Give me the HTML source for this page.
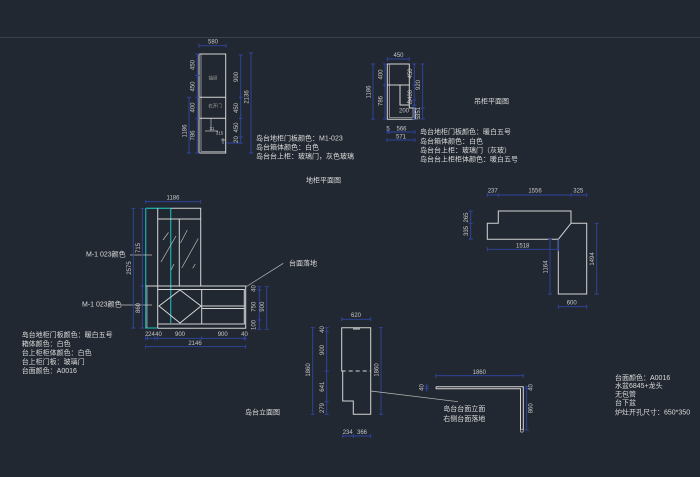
<!DOCTYPE html>
<html><head><meta charset="utf-8"><style>
html,body{margin:0;padding:0;background:#222831;}
svg{display:block}
.w{stroke:#d4d4d4;stroke-width:1;fill:none}
.w2{stroke:#bdbdbd;stroke-width:0.7;fill:none}
.b{stroke:#2e45a3;stroke-width:0.9;fill:none}
.c{stroke:#1fa3a3;stroke-width:1.3;fill:none}
.t{font-family:"Liberation Sans","Noto Sans CJK SC",sans-serif;font-size:7px;fill:#dadada;dominant-baseline:central}
.d{font-family:"Liberation Sans",sans-serif;font-size:6px;fill:#c6c6c6;text-anchor:middle;dominant-baseline:central}
.s{font-family:"Liberation Sans","Noto Sans CJK SC",sans-serif;font-size:4.5px;fill:#9a9a9a;text-anchor:middle;dominant-baseline:central}
</style></head><body>
<svg width="700" height="477" viewBox="0 0 700 477" xmlns="http://www.w3.org/2000/svg">
<rect width="700" height="477" fill="#222831"/>
<line x1="0" y1="37.5" x2="700" y2="37.5" stroke="#3a404d" stroke-width="1"/>

<!-- ========== Top-left elevation ========== -->
<path class="w" d="M199,54H225.7V153H199Z"/>
<path class="w2" d="M201,54V151.3H225.7"/>
<path class="w" d="M199,97.3H225.7M199,118.3H225.7"/>
<path class="w2" d="M211,118.3V131M205,131H218M221,140H225M223,138V144"/>
<text class="s" x="213" y="78">抽屉</text>
<text class="s" x="215" y="106">右开门</text>
<text class="d" x="212" y="128.5" style="font-size:4.5px">31</text>
<text class="d" x="219.5" y="133" style="font-size:4.5px">315</text>

<path class="b" d="M199,45.7H226M199,43.7V47.7M226,43.7V47.7"/>
<text class="d" x="213" y="42.5">580</text>
<path class="b" d="M197.3,54V153M195.3,54H199.3M195.3,75.5H199.3M195.3,97.3H199.3M195.3,118.3H199.3M195.3,153H199.3"/>
<text class="d" transform="translate(193.5,65) rotate(-90)">450</text>
<text class="d" transform="translate(193.5,86.5) rotate(-90)">450</text>
<text class="d" transform="translate(193.5,107.5) rotate(-90)">400</text>
<text class="d" transform="translate(193.5,135.5) rotate(-90)">786</text>
<path class="b" d="M189,97.3V153M187,97.3H191M187,153H191"/>
<text class="d" transform="translate(185.5,131) rotate(-90)">1186</text>
<path class="b" d="M240.7,55V143M238.7,55H242.7M238.7,97.3H242.7M238.7,118.3H242.7M238.7,137H242.7M238.7,143H242.7M226,143H242"/>
<text class="d" transform="translate(236.8,77) rotate(-90)">900</text>
<text class="d" transform="translate(236.8,108) rotate(-90)">450</text>
<text class="d" transform="translate(236.8,127.5) rotate(-90)">450</text>
<text class="d" transform="translate(236.8,139.5) rotate(-90)">20</text>
<path class="b" d="M251,53V153M249,53H253M249,153H253"/>
<text class="d" transform="translate(247.3,97) rotate(-90)">2136</text>

<text class="t" x="256" y="139">岛台地柜门板颜色：M1-023</text>
<text class="t" x="256" y="148">岛台箱体颜色：白色</text>
<text class="t" x="256" y="157">岛台台上柜：玻璃门，灰色玻璃</text>

<!-- ========== Top-middle 吊柜 ========== -->
<path class="w" d="M387.3,64H409.3V108H415V119.3H387.3Z"/>
<path class="w2" d="M389.3,64V117.3H413V108"/>
<path class="w" d="M387.3,85H409.3M400,85V105H409.3"/>
<path class="b" d="M387.3,59H409.3M387.3,57V61M409.3,57V61"/>
<text class="d" x="398.5" y="56">450</text>
<path class="b" d="M385,64V119M383,64H387M383,85H387M383,119H387"/>
<text class="d" transform="translate(381.5,74.5) rotate(-90)">400</text>
<text class="d" transform="translate(381.5,101) rotate(-90)">786</text>
<path class="b" d="M373,64V119M371,64H375M371,119H375"/>
<text class="d" transform="translate(369.5,92) rotate(-90)">1186</text>
<path class="b" d="M414.3,64V119M412.3,64H416.3M412.3,85H416.3M412.3,100H416.3M412.3,105H416.3M412.3,119H416.3"/>
<text class="d" transform="translate(411,73.5) rotate(-90)">450</text>
<text class="d" transform="translate(411,95) rotate(-90)">400</text>
<text class="d" x="409.5" y="103" style="font-size:5px">40</text>
<text class="d" x="404" y="111.5">200</text>
<path class="b" d="M422.7,64V119M420.7,64H424.7M420.7,108H424.7M420.7,119H424.7"/>
<text class="d" transform="translate(419,85) rotate(-90)">920</text>
<text class="d" transform="translate(419,112) rotate(-90)">351</text>
<text class="d" transform="translate(419,118) rotate(-90)">5</text>
<path class="b" d="M387,132H415M387,130V134M389,130V134M415,130V134M387,140H415M387,138V142M415,138V142"/>
<text class="d" x="388" y="129.3">5</text>
<text class="d" x="401.5" y="129.3">566</text>
<text class="d" x="401" y="137.3">571</text>

<text class="t" x="474" y="102">吊柜平面图</text>
<text class="t" x="420" y="132.5">岛台地柜门板颜色：暖白五号</text>
<text class="t" x="420" y="142">岛台箱体颜色：白色</text>
<text class="t" x="420" y="151">岛台台上柜：玻璃门（灰玻）</text>
<text class="t" x="420" y="160">岛台台上柜柜体颜色：暖白五号</text>

<text class="t" x="306" y="181">地柜平面图</text>

<!-- ========== Middle elevation ========== -->
<!-- cyan panel -->
<path class="c" d="M145.7,208.3V328H157.7M170.7,208.3V323M145.7,208.3H170.7"/>
<!-- upper cabinet -->
<path class="w" d="M170.7,208.3H200.7V286M157.7,208.3V328"/>
<path class="w" d="M157.7,219H200.7M179.3,219V286"/>
<!-- glass marks -->
<path class="w2" d="M163,240L168.5,232.5M161,262L176,236M171,270L174,264M180.5,243L187.3,230M181.7,268L198.3,238.5M192.7,268.3L195.3,264"/>
<!-- lower cabinet -->
<path class="w" d="M145.7,286H245.7V328.3H157.7M157.7,289.5H244.3V324H157.7M244.3,289.5V324"/>
<path class="w" d="M201.7,289.5V324M201.7,306H244.3M201.7,308.5H244.3"/>
<path class="w" d="M159,306L180,290L201,306L180,323Z"/>
<path class="w2" d="M147,286V328"/>
<!-- labels -->
<text class="t" x="86" y="255">M-1 023颜色</text>
<path class="w2" d="M130,255H152"/>
<text class="t" x="82" y="305">M-1 023颜色</text>
<path class="w2" d="M121,305H152"/>
<!-- dims -->
<path class="b" d="M145.7,201.7H200.7M145.7,199.7V203.7M200.7,199.7V203.7"/>
<text class="d" x="173" y="198.5">1186</text>
<path class="b" d="M133.3,208.3V328M131.3,208.3H135.3M131.3,328H135.3"/>
<text class="d" transform="translate(129.8,268) rotate(-90)">2575</text>
<path class="b" d="M142.3,208.3V328M140.3,208.3H144.3M140.3,286H144.3M140.3,328H144.3"/>
<text class="d" transform="translate(138.8,248) rotate(-90)">715</text>
<text class="d" transform="translate(138.8,308) rotate(-90)">860</text>
<path class="b" d="M145.7,338.3H245.7M145.7,336.3V340.3M147.5,336.3V340.3M155,336.3V340.3M157.7,336.3V340.3M201.7,336.3V340.3M244.3,336.3V340.3M245.7,336.3V340.3"/>
<text class="d" x="146.8" y="335">2</text>
<text class="d" x="151.5" y="335">24</text>
<text class="d" x="158.5" y="335">40</text>
<text class="d" x="180" y="335">900</text>
<text class="d" x="222.7" y="335">900</text>
<text class="d" x="244.5" y="335">40</text>
<path class="b" d="M145.7,346.7H245.7M145.7,344.7V348.7M245.7,344.7V348.7"/>
<text class="d" x="195" y="343.8">2146</text>
<path class="b" d="M259.3,286.7V329.3M257.3,286.7H261.3M257.3,290H261.3M257.3,320H261.3M257.3,329.3H261.3"/>
<text class="d" transform="translate(254.5,288.5) rotate(-90)">40</text>
<text class="d" transform="translate(254.5,306.7) rotate(-90)">750</text>
<text class="d" transform="translate(254.5,325) rotate(-90)">100</text>
<path class="b" d="M266.7,286.7V329.3M264.7,286.7H268.7M264.7,329.3H268.7"/>
<text class="d" transform="translate(263,306.7) rotate(-90)">900</text>
<path class="w2" d="M245.7,287L283.3,263.3"/>
<text class="t" x="289" y="264">台面落地</text>

<text class="t" x="21.7" y="335.7">岛台地柜门板颜色：暖白五号</text>
<text class="t" x="21.7" y="344.5">箱体颜色：白色</text>
<text class="t" x="21.7" y="353.3">台上柜柜体颜色：白色</text>
<text class="t" x="21.7" y="362.3">台上柜门板：玻璃门</text>
<text class="t" x="21.7" y="371.5">台面颜色：A0016</text>

<text class="t" x="245" y="413">岛台立面图</text>

<!-- ========== Plan view ========== -->
<path class="w" d="M498.3,211H571V223.3H586.7V294H558.3V239.3H487.3V223.3H498.3Z"/>
<path class="w" d="M571,223.3L558.3,239.3"/>
<path class="b" d="M487.3,195H586.7M487.3,193V197M498.3,193V197M571,193V197M586.7,193V197"/>
<text class="d" x="492.7" y="191.7">237</text>
<text class="d" x="535" y="191.7">1556</text>
<text class="d" x="578.3" y="191.7">325</text>
<path class="b" d="M470.7,211V239M468.7,211H472.7M468.7,223.3H472.7M468.7,239H472.7"/>
<text class="d" transform="translate(467,217.5) rotate(-90)">265</text>
<text class="d" transform="translate(467,231) rotate(-90)">335</text>
<path class="b" d="M487.3,249.3H558.3M487.3,247.3V251.3M558.3,247.3V251.3M558.3,239.3V251"/>
<text class="d" x="522.7" y="246.3">1518</text>
<path class="b" d="M550,239.3V294M548,239.3H552M548,294H552"/>
<text class="d" transform="translate(546.5,267) rotate(-90)">1164</text>
<path class="b" d="M596.7,223.3V294M594.7,223.3H598.7M594.7,294H598.7"/>
<text class="d" transform="translate(593.2,259) rotate(-90)">1494</text>
<path class="b" d="M558.3,306.7H586.7M558.3,304.7V308.7M586.7,304.7V308.7"/>
<text class="d" x="571.7" y="303.7">600</text>

<!-- ========== Side view ========== -->
<path class="w" d="M341.7,327.7H370.7V414.3H353.3V401H342.7V371H341.7Z"/>
<path class="w" d="M341.7,371H370.7" stroke-dasharray="4,3"/>
<path class="w" d="M353,329H360" stroke-width="1.6"/>
<path class="b" d="M341.7,319.3H370.7M341.7,317.3V321.3M370.7,317.3V321.3"/>
<text class="d" x="356" y="316">620</text>
<path class="b" d="M312.7,327.7V414.3M310.7,327.7H314.7M310.7,414.3H314.7"/>
<text class="d" transform="translate(309,370) rotate(-90)">1860</text>
<path class="b" d="M326.7,327.7V414.3M324.7,327.7H328.7M324.7,331.7H328.7M324.7,371H328.7M324.7,401.7H328.7M324.7,414.3H328.7"/>
<text class="d" transform="translate(322.8,329.5) rotate(-90)">40</text>
<text class="d" transform="translate(322.8,350) rotate(-90)">900</text>
<text class="d" transform="translate(322.8,386.7) rotate(-90)">641</text>
<text class="d" transform="translate(322.8,408) rotate(-90)">279</text>
<path class="b" d="M381,327.7V414.3M379,327.7H383M379,414.3H383"/>
<text class="d" transform="translate(377.3,370) rotate(-90)">1860</text>
<path class="b" d="M342.7,436H370.7M342.7,434V438M353.3,434V438M370.7,434V438"/>
<text class="d" x="347.7" y="433">234</text>
<text class="d" x="362" y="433">366</text>
<path class="w2" d="M370.7,391L458,401.7"/>

<!-- ========== Countertop elevation ========== -->
<path class="w" d="M436,386.7H523.3V430M436,388.7H520.5V430M436,386.7V388.7"/>
<circle cx="521.8" cy="430.7" r="1.5" class="w2"/>
<path class="b" d="M436,375.7H523.3M436,373.7V377.7M523.3,373.7V377.7"/>
<text class="d" x="479.3" y="372.8">1860</text>
<path class="b" d="M426.7,384V391.5M424.7,386.7H428.7M424.7,388.7H428.7"/>
<text class="d" transform="translate(422.7,387.5) rotate(-90)">40</text>
<path class="b" d="M526.7,386.7V430M524.7,386.7H528.7M524.7,388.7H528.7M524.7,430H528.7"/>
<text class="d" transform="translate(531.7,387.5) rotate(-90)">40</text>
<text class="d" transform="translate(531.7,408.3) rotate(-90)">860</text>
<text class="t" x="443.3" y="409.3">岛台台面立面</text>
<text class="t" x="443.3" y="419.3">右侧台面落地</text>

<!-- ========== Right text ========== -->
<text class="t" x="615" y="378.3">台面颜色：A0016</text>
<text class="t" x="615" y="386.7">水盆6845+龙头</text>
<text class="t" x="615" y="395">无包管</text>
<text class="t" x="615" y="403.5">台下盆</text>
<text class="t" x="615" y="413">炉灶开孔尺寸：650*350</text>
</svg>
</body></html>
